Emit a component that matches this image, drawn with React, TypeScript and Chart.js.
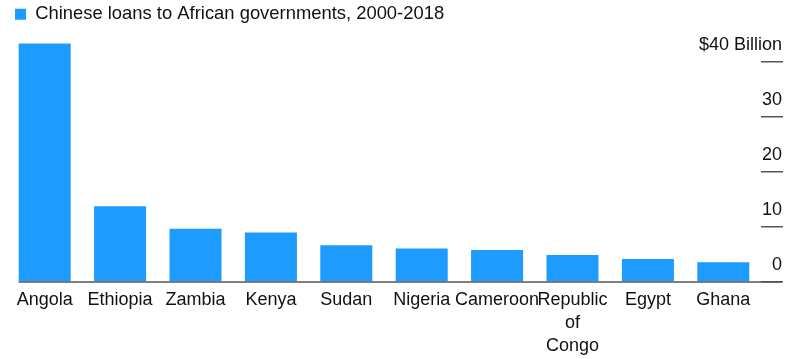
import React, { useEffect, useRef } from "react";
import { Chart, registerables } from "chart.js";

Chart.register(...registerables);

const countries: (string | string[])[] = [
  "Angola",
  "Ethiopia",
  "Zambia",
  "Kenya",
  "Sudan",
  "Nigeria",
  "Cameroon",
  ["Republic", "of", "Congo"],
  "Egypt",
  "Ghana",
];
const loans = [43.4, 13.8, 9.7, 9.0, 6.7, 6.1, 5.8, 4.9, 4.2, 3.6];
const yTicks = [0, 10, 20, 30, 40];
const seriesLabel = "Chinese loans to African governments, 2000-2018";

const FONT = "'Liberation Sans', Arial, Helvetica, sans-serif";
const BAR = "#1e9bff";
const INK = "#111111";
const LINE = "#555555";

const baselinePlugin = {
  id: "baseline",
  afterDatasetsDraw(chart: any) {
    const meta = chart.getDatasetMeta(0);
    const y = chart.scales.y;
    if (!meta || !meta.data.length) return;
    const first: any = meta.data[0];
    const left = first.x - first.width / 2;
    const py = y.getPixelForValue(0);
    const ctx = chart.ctx;
    ctx.save();
    ctx.strokeStyle = LINE;
    ctx.lineWidth = 1.5;
    ctx.beginPath();
    ctx.moveTo(left, py);
    ctx.lineTo(y.left + 21, py);
    ctx.stroke();
    ctx.restore();
  },
};

export default function App() {
  const ref = useRef<HTMLCanvasElement | null>(null);
  useEffect(() => {
    if (!ref.current) return;
    const chart = new Chart(ref.current, {
      type: "bar",
      data: {
        labels: countries,
        datasets: [
          {
            label: seriesLabel,
            data: loans,
            backgroundColor: BAR,
            borderWidth: 0,
            barPercentage: 0.69,
            categoryPercentage: 1,
          },
        ],
      },
      options: {
        animation: false,
        responsive: true,
        maintainAspectRatio: false,
        layout: { padding: { left: 7, right: 13, top: -3, bottom: -6 } },
        plugins: {
          tooltip: { enabled: false },
          legend: {
            display: true,
            position: "top",
            align: "start",
            labels: {
              boxWidth: 11,
              boxHeight: 11,
              color: INK,
              font: { family: FONT, size: 18.4 },
              padding: 8,
            },
          },
          title: {
            display: true,
            text: "",
            weight: 500,
            padding: 0,
            font: { size: 6.8, lineHeight: 1 },
          } as any,
        },
        scales: {
          x: {
            grid: { display: false, drawTicks: false, tickLength: 0 },
            border: { display: false },
            ticks: {
              autoSkip: false,
              maxRotation: 0,
              minRotation: 0,
              color: INK,
              padding: 7,
              font: { family: FONT, size: 18, lineHeight: 1.278 },
            },
          },
          y: {
            position: "right",
            min: 0,
            max: 44,
            afterBuildTicks(scale: any) {
              scale.ticks = yTicks.map((v) => ({ value: v }));
            },
            afterFit(scale: any) {
              scale.width = 21;
            },
            grid: {
              drawOnChartArea: false,
              drawTicks: true,
              tickLength: 22,
              color: LINE,
              lineWidth: 1.5,
            },
            border: { display: false },
            ticks: {
              mirror: true,
              crossAlign: "near",
              padding: 21,
              labelOffset: -17,
              color: INK,
              font: { family: FONT, size: 18 },
              callback: (v: any) => (v === 40 ? "$40 Billion" : String(v)),
            },
          },
        },
      },
      plugins: [baselinePlugin],
    });
    return () => chart.destroy();
  }, []);
  return (
    <div
      style={{
        position: "fixed",
        left: 0,
        top: 0,
        width: 795,
        height: 359,
        background: "#fff",
      }}
    >
      <canvas ref={ref} />
    </div>
  );
}
